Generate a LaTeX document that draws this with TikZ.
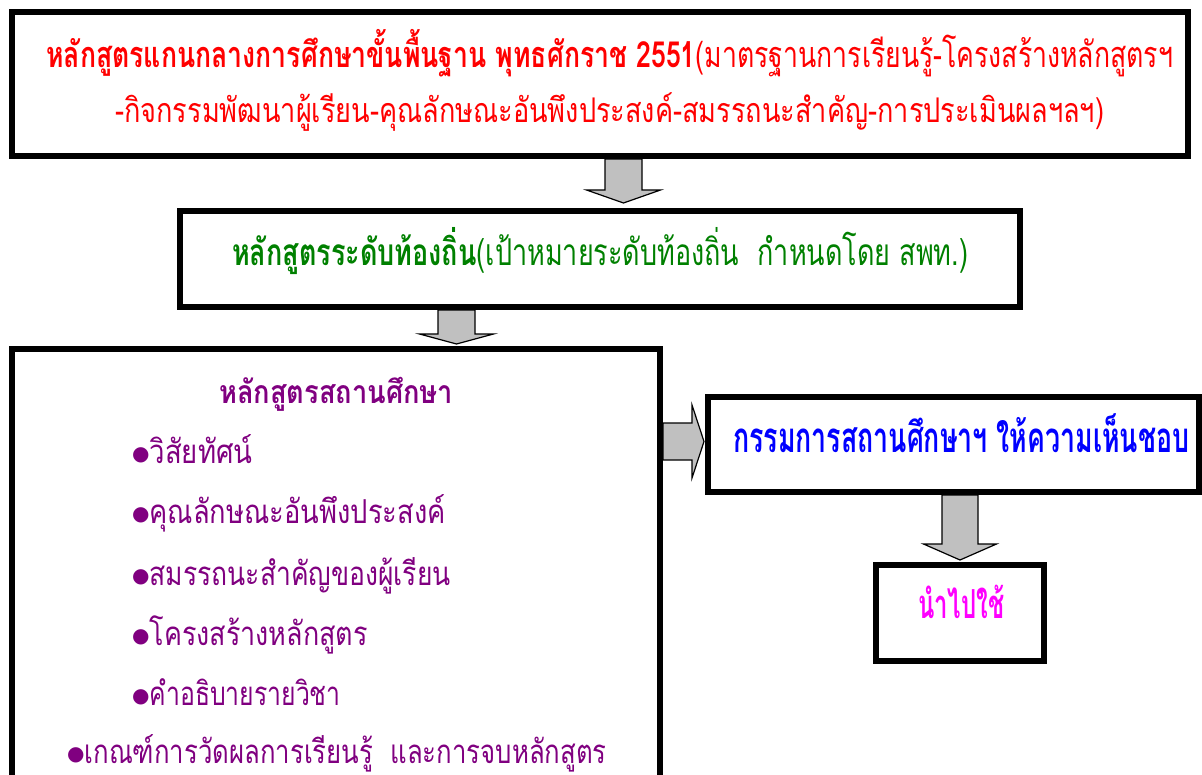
\documentclass[tikz,border=0pt]{standalone}
\usepackage{fontspec}
\usepackage{graphicx}
\setmainfont{Liberation Serif}
\newfontfamily\thai[Script=Thai]{Loma}
\newfontfamily\symf{DejaVu Sans}
\usetikzlibrary{calc}
\pgfdeclarelayer{background}
\pgfsetlayers{background,main}
\definecolor{tred}{HTML}{FF0000}
\definecolor{tgreen}{HTML}{008000}
\definecolor{tpurple}{HTML}{800080}
\definecolor{tblue}{HTML}{0000FF}
\definecolor{tmag}{HTML}{FF00FF}
\definecolor{agray}{HTML}{C0C0C0}
\newcommand{\fitw}[2]{\resizebox{#1}{\height}{#2}}
\newcommand{\bul}{\raisebox{2.5pt}{\symf\fontsize{20}{20}\selectfont ●}}
\tikzset{
  box/.style={draw=black, line width=6pt, inner sep=0pt, rectangle},
  txt/.style={anchor=base west, inner sep=0pt, font=\thai},
  barrow/.style={draw=black, fill=agray, line width=1.2pt, line join=miter}
}
\begin{document}
\begin{tikzpicture}[x=1pt,y=-1pt]
\useasboundingbox (0,0) rectangle (1202,775);
\clip (0,0) rectangle (1202,775);
% boxes
\node[box, minimum width=1176pt, minimum height=143.5pt] (b1) at (600,84.25) {};
\node[box, minimum width=840pt, minimum height=96pt] (b2) at (600,259) {};
\node[box, minimum width=648pt, minimum height=451pt] (b3) at (336,574.5) {};
\node[box, minimum width=491pt, minimum height=95pt] (b4) at (953.5,444.5) {};
\node[box, minimum width=168pt, minimum height=95.5pt] (b5) at (960,612.75) {};
% texts
\node[txt, text=tred] (t1a) at (46,68) {\fitw{1127pt}{\fontsize{36}{40}\selectfont\bfseries หลักสูตรแกนกลางการศึกษาขั้นพื้นฐาน พุทธศักราช 2551\mdseries(มาตรฐานการเรียนรู้-โครงสร้างหลักสูตรฯ}};
\node[txt, text=tred] (t1b) at (115,123) {\fitw{989pt}{\fontsize{34}{40}\selectfont -กิจกรรมพัฒนาผู้เรียน-คุณลักษณะอันพึงประสงค์-สมรรถนะสำคัญ-การประเมินผลฯลฯ)}};
\node[txt, text=tgreen] (t2) at (232,266) {\fitw{736pt}{\fontsize{37}{40}\selectfont\bfseries หลักสูตรระดับท้องถิ่น\mdseries(เป้าหมายระดับท้องถิ่น\ \ กำหนดโดย สพท.)}};
\node[txt, text=tpurple] (t3) at (219,403) {\fitw{234pt}{\fontsize{32}{40}\selectfont\bfseries หลักสูตรสถานศึกษา}};
\node[txt, text=tpurple] (i1) at (132,463) {\bul\fitw{103pt}{\fontsize{33}{40}\selectfont วิสัยทัศน์}};
\node[txt, text=tpurple] (i2) at (132,523) {\bul\fitw{296pt}{\fontsize{33}{40}\selectfont คุณลักษณะอันพึงประสงค์}};
\node[txt, text=tpurple] (i3) at (132,585) {\bul\fitw{301pt}{\fontsize{33}{40}\selectfont สมรรถนะสำคัญของผู้เรียน}};
\node[txt, text=tpurple] (i4) at (132,645) {\bul\fitw{218pt}{\fontsize{33}{40}\selectfont โครงสร้างหลักสูตร}};
\node[txt, text=tpurple] (i5) at (132,705) {\bul\fitw{191pt}{\fontsize{33}{40}\selectfont คำอธิบายรายวิชา}};
\node[txt, text=tpurple] (i6) at (67,763) {\bul\fitw{522pt}{\fontsize{33}{40}\selectfont เกณฑ์การวัดผลการเรียนรู้\ \ และการจบหลักสูตร}};
\node[txt, text=tblue] (t4) at (733,452) {\fitw{456pt}{\fontsize{42}{48}\selectfont\bfseries กรรมการสถานศึกษาฯ ให้ความเห็นชอบ}};
\node[txt, text=tmag] (t5) at (918,618) {\fitw{86pt}{\fontsize{40}{48}\selectfont\bfseries นำไปใช้}};
% block arrows
\coordinate (a1s) at ($(b1.south)+(23.5,0)$);
\coordinate (a1t) at ($(b2.north)+(23.5,-5)$);
\coordinate (a2s) at ($(b2.south)+(-143.5,0)$);
\coordinate (a2t) at ($(b3.north)+(120.5,-2)$);
\coordinate (a3s) at ($(b3.east)+(0,-133)$);
\coordinate (a3t) at ($(b4.west)+(-1,-3)$);
\coordinate (a4s) at ($(b4.south)+(6.5,0)$);
\coordinate (a4t) at ($(b5.north)+(0,-2)$);
\begin{pgfonlayer}{background}
\draw[barrow] ($(a1s)+(-18.5,0)$) -- ($(a1t)+(-18.5,-13)$) -- ($(a1t)+(-37,-13)$) -- (a1t) -- ($(a1t)+(37,-13)$) -- ($(a1t)+(18.5,-13)$) -- ($(a1s)+(18.5,0)$) -- cycle;
\draw[barrow] ($(a2s)+(-18.5,0)$) -- ($(a2t)+(-18.5,-10)$) -- ($(a2t)+(-37,-10)$) -- (a2t) -- ($(a2t)+(37,-10)$) -- ($(a2t)+(18.5,-10)$) -- ($(a2s)+(18.5,0)$) -- cycle;
\draw[barrow] ($(a3s)+(0,-18.5)$) -- ($(a3t)+(-12,-18.5)$) -- ($(a3t)+(-12,-36.5)$) -- (a3t) -- ($(a3t)+(-12,36.5)$) -- ($(a3t)+(-12,18.5)$) -- ($(a3s)+(0,18.5)$) -- cycle;
\draw[barrow] ($(a4s)+(-18,0)$) -- ($(a4t)+(-18,-16)$) -- ($(a4t)+(-36.5,-16)$) -- (a4t) -- ($(a4t)+(36.5,-16)$) -- ($(a4t)+(18,-16)$) -- ($(a4s)+(18,0)$) -- cycle;
\end{pgfonlayer}
\end{tikzpicture}
\end{document}
